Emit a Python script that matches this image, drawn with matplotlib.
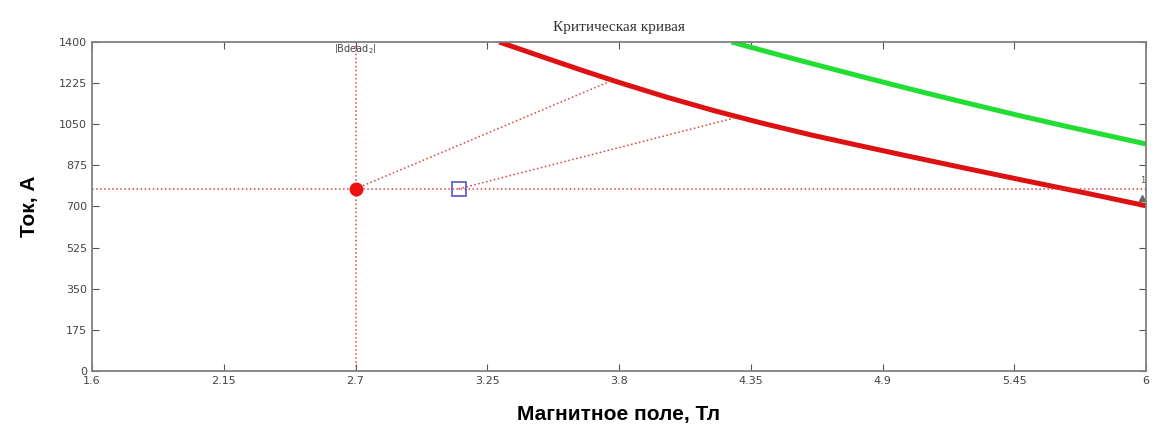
import matplotlib
matplotlib.use("Agg")
import matplotlib.pyplot as plt

# critical curves (field in T, current in A)
red_b = [3.30, 3.50, 3.65, 3.80, 4.00, 4.20, 4.40, 4.60, 4.80, 5.00,
         5.25, 5.50, 5.75, 6.00]
red_i = [1400, 1330, 1278, 1228, 1165, 1107, 1054, 1005, 960, 916,
         862, 809, 757, 703]
green_b = [4.27, 4.45, 4.65, 4.85, 5.05, 5.25, 5.45, 5.65, 5.85, 6.00]
green_i = [1400, 1350, 1296, 1243, 1191, 1141, 1092, 1045, 1000, 966]

# operating point and its projections
op_b, op_i = 2.7, 775
sq_b = 3.13
hit1 = (3.77, 1236)
hit2 = (4.29, 1079)

xticks = [1.6, 2.15, 2.7, 3.25, 3.8, 4.35, 4.9, 5.45, 6.0]
xlabels = ["1.6", "2.15", "2.7", "3.25", "3.8", "4.35", "4.9", "5.45", "6"]
yticks = [0, 175, 350, 525, 700, 875, 1050, 1225, 1400]

fig = plt.figure(figsize=(11.55, 4.34), dpi=100)
ax = fig.add_axes([0.0797, 0.1452, 0.9125, 0.758])

ax.plot(green_b, green_i, color="#22dd33", lw=3.6, solid_capstyle="butt")
ax.plot(red_b, red_i, color="#dd1111", lw=3.6, solid_capstyle="butt")

dot = dict(color="#e04040", ls=":", lw=1.1)
ax.axhline(op_i, **dot)
ax.axvline(op_b, **dot)
ax.plot([op_b, hit1[0]], [op_i, hit1[1]], **dot)
ax.plot([sq_b, hit2[0]], [op_i, hit2[1]], **dot)

ax.plot(op_b, op_i, "o", color="#ee1111", ms=9)
ax.plot(sq_b, op_i, "s", mfc="none", mec="#5555cc", ms=10, mew=1.2)

# little labels on the edges
ax.text(op_b, 1398, r"$\left|\mathrm{Bdead}_2\right|$", ha="center", va="top",
        fontsize=7, color="#444444")
ax.text(5.985, 790, "1", ha="center", va="bottom", fontsize=6, color="#555555")
ax.plot(5.985, 735, "^", color="#666666", ms=4)

ax.set_xlim(1.6, 6.0)
ax.set_ylim(0, 1400)
ax.set_xticks(xticks)
ax.set_xticklabels(xlabels)
ax.set_yticks(yticks)
ax.tick_params(direction="in", length=5, top=True, right=True,
               labelsize=8, colors="#555555", labelcolor="#444444")
for s in ax.spines.values():
    s.set_color("#808080")
    s.set_linewidth(1.3)

ax.set_title("Критическая кривая", fontsize=11, family="Liberation Serif",
             color="#333333", pad=8)
ax.set_xlabel("Магнитное поле, Тл", fontsize=15, fontweight="bold",
              family="Liberation Sans", labelpad=14)
ax.set_ylabel("Ток, А", fontsize=15, fontweight="bold",
              family="Liberation Sans", labelpad=14)

fig.savefig("out.png", dpi=100)
